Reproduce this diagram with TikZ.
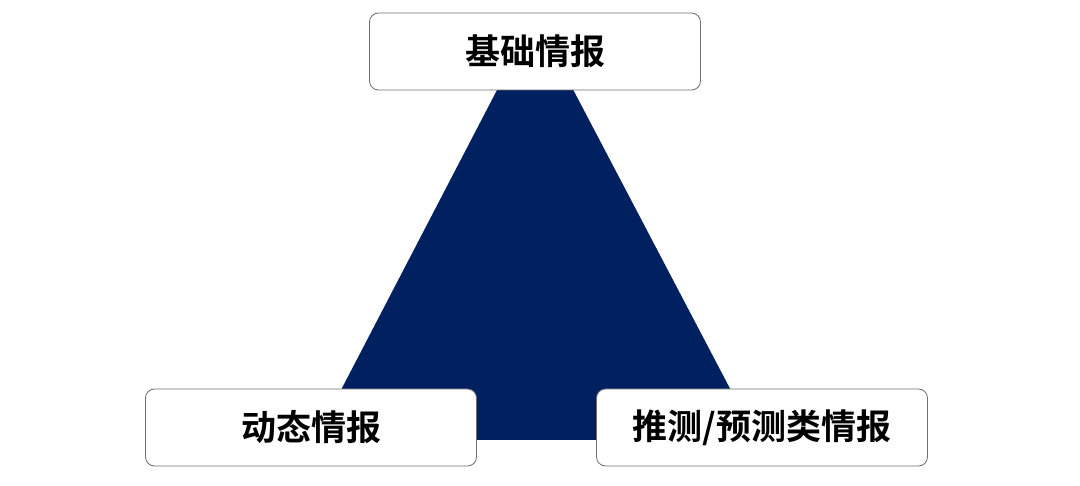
\documentclass[tikz,border=0pt]{standalone}
\usepackage{fontspec}
\newfontfamily\cjk{Noto Sans CJK SC}[BoldFont={* Bold}]
\definecolor{navy}{HTML}{002060}
\definecolor{boxline}{HTML}{6F6F6F}

\begin{document}
\begin{tikzpicture}[x=1pt,y=-1pt,
	infobox/.style={draw=boxline,line width=0.8pt,fill=white,rounded corners=9pt,
		minimum width=331pt,minimum height=77pt,inner sep=0pt,
		font=\cjk\bfseries\fontsize{35}{35}\selectfont}]
	\useasboundingbox (0,0) rectangle (1080,486);

	\fill[navy] (315,440) -- (757,440) -- (535,17) -- cycle; % triangle

	\node[infobox] (base) at (535,51.5) {基础情报};
	\node[infobox] (dyn) at (311,427.5) {动态情报};
	\node[infobox] (pred) at (762,427.5) {推测/预测类情报};
\end{tikzpicture}
\end{document}
